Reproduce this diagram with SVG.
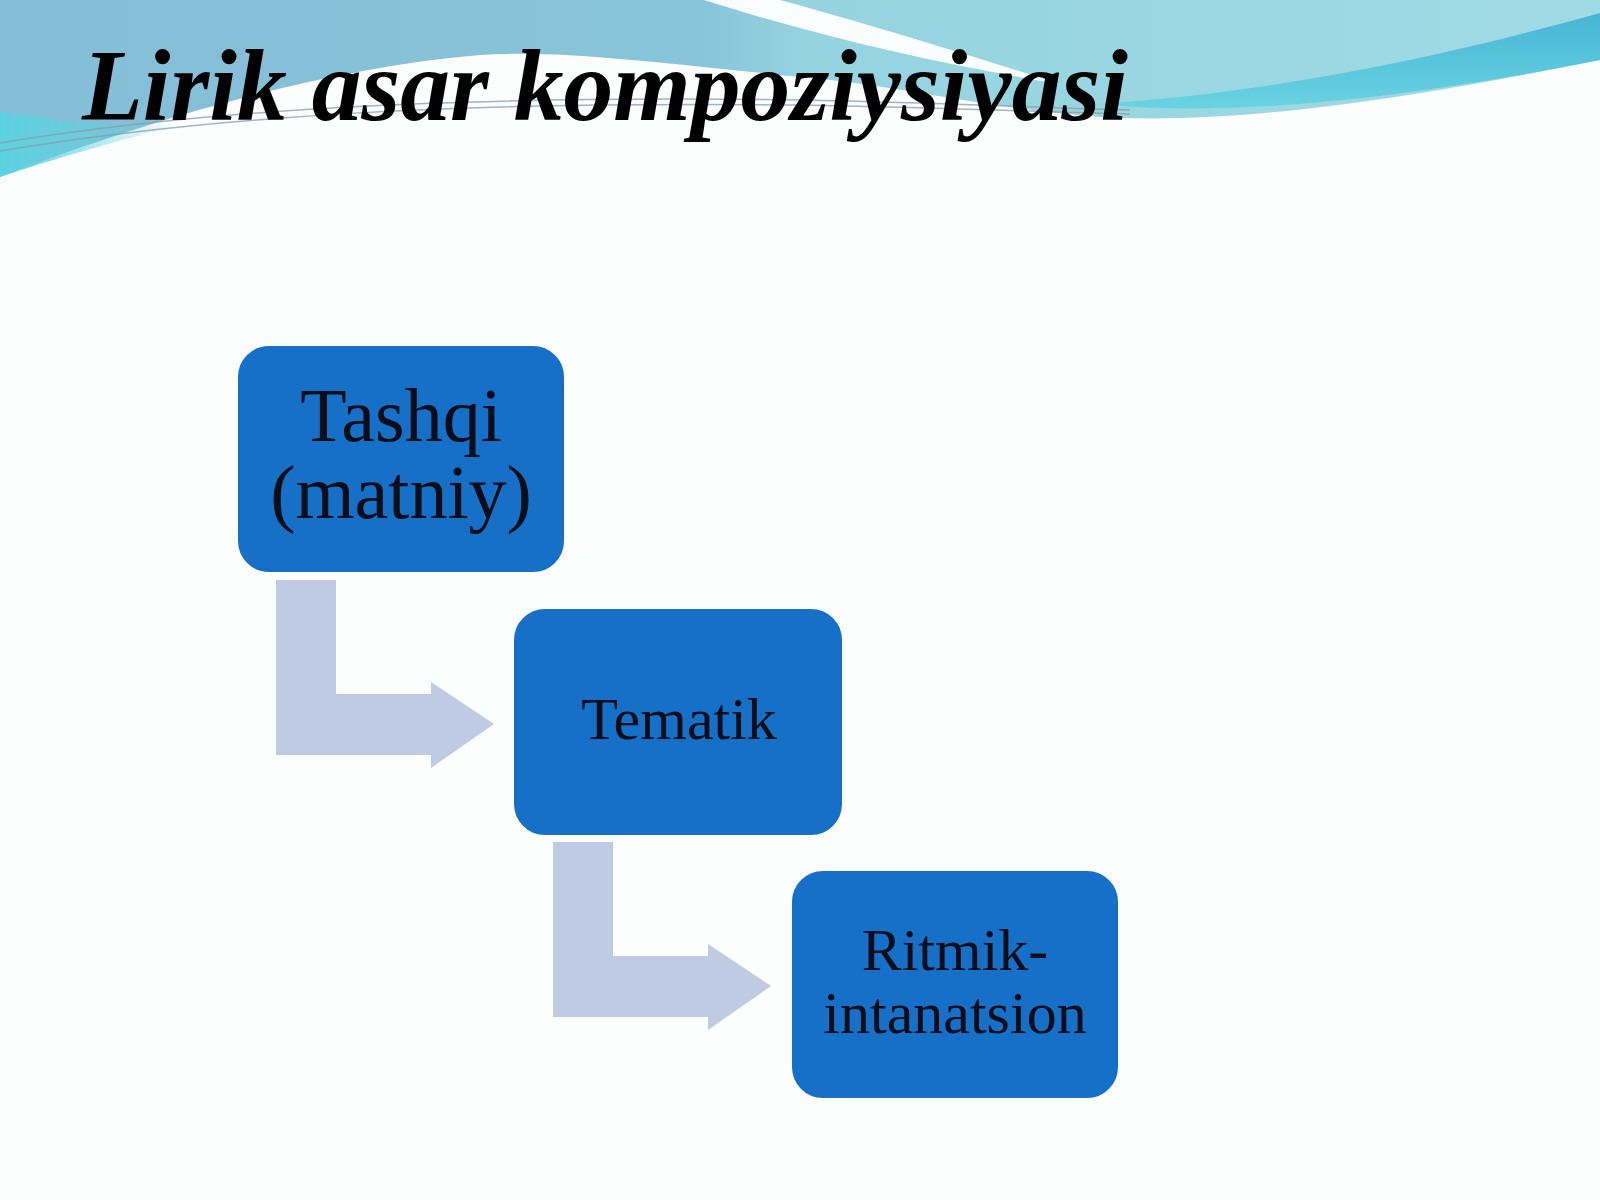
<svg xmlns="http://www.w3.org/2000/svg" width="1600" height="1200" viewBox="0 0 1600 1200">
  <defs>
    <linearGradient id="topGrad" x1="0" y1="0" x2="1" y2="0">
      <stop offset="0" stop-color="#84bed7"/>
      <stop offset="0.44" stop-color="#88c4da"/>
      <stop offset="0.5" stop-color="#94d3e0"/>
      <stop offset="1" stop-color="#a0dbe5"/>
    </linearGradient>
    <linearGradient id="leftCyan" x1="0" y1="0" x2="1" y2="0">
      <stop offset="0" stop-color="#5cd2e0" stop-opacity="1"/>
      <stop offset="1" stop-color="#5cd2e0" stop-opacity="0"/>
    </linearGradient>
    <linearGradient id="bandGrad" x1="0" y1="0" x2="0" y2="1">
      <stop offset="0" stop-color="#46b6d5"/>
      <stop offset="1" stop-color="#6ad3e2"/>
    </linearGradient>
    <style>
      .box { fill: #1670c8; stroke: #ffffff; stroke-width: 2; }
      .arrow { fill: #bfcae3; }
      .label { font-family: "Liberation Serif", "Times New Roman", serif; fill: #0b0d18; text-anchor: middle; }
      .title { font-family: "Liberation Serif", "Times New Roman", serif; font-weight: bold; font-style: italic; fill: #000000; }
      .thin { fill: none; stroke: #8a9aa4; stroke-width: 1.5; opacity: 0.75; }
    </style>
  </defs>

  <!-- background -->
  <rect x="0" y="0" width="1600" height="1200" fill="#fcfdfd"/>

  <!-- top decorative wave -->
  <g id="background-wave">
    <path d="M0,0 H1600 V60 C1400,100 1250,122 1120,118 C1000,112 900,85 800,77 C650,62 560,50 480,55 C300,70 110,135 0,177 Z" fill="url(#topGrad)"/>
    <path d="M0,112 C60,120 120,128 180,125 C120,140 50,160 0,177 Z" fill="url(#leftCyan)"/>
    <path d="M704,0 H780 C860,22 960,52 1060,84 C950,66 830,40 704,0 Z" fill="#ffffff" opacity="0.95"/>
    <path d="M1600,13 C1450,55 1280,92 1100,104 C1250,120 1450,90 1600,60 Z" fill="url(#bandGrad)"/>
    <path class="thin" d="M0,143 C200,110 450,95 800,100 C950,103 1050,108 1130,110"/>
    <path class="thin" d="M0,151 C210,116 460,101 800,105 C950,108 1050,112 1130,114"/>
  </g>

  <!-- title -->
  <text class="title" x="82" y="120" font-size="101" textLength="1046" lengthAdjust="spacingAndGlyphs">Lirik asar kompoziysiyasi</text>

  <!-- connectors -->
  <g id="connectors">
    <path class="arrow" d="M276,580 H336 V694 H431 V682 L494,724 L431,768 V755 H276 Z"/>
    <path class="arrow" d="M553,842 H613 V956 H708 V944 L771,986 L708,1030 V1017 H553 Z"/>
  </g>

  <!-- nodes -->
  <g id="node-tashqi">
    <rect class="box" x="237" y="345" width="328" height="228" rx="32"/>
    <text class="label" x="401" y="441" font-size="76">Tashqi</text>
    <text class="label" x="401" y="518" font-size="76">(matniy)</text>
  </g>
  <g id="node-tematik">
    <rect class="box" x="513" y="608" width="330" height="228" rx="32"/>
    <text class="label" x="679" y="739" font-size="60">Tematik</text>
  </g>
  <g id="node-ritmik">
    <rect class="box" x="791" y="870" width="328" height="229" rx="32"/>
    <text class="label" x="955" y="970" font-size="60">Ritmik-</text>
    <text class="label" x="955" y="1033" font-size="60">intanatsion</text>
  </g>
</svg>
